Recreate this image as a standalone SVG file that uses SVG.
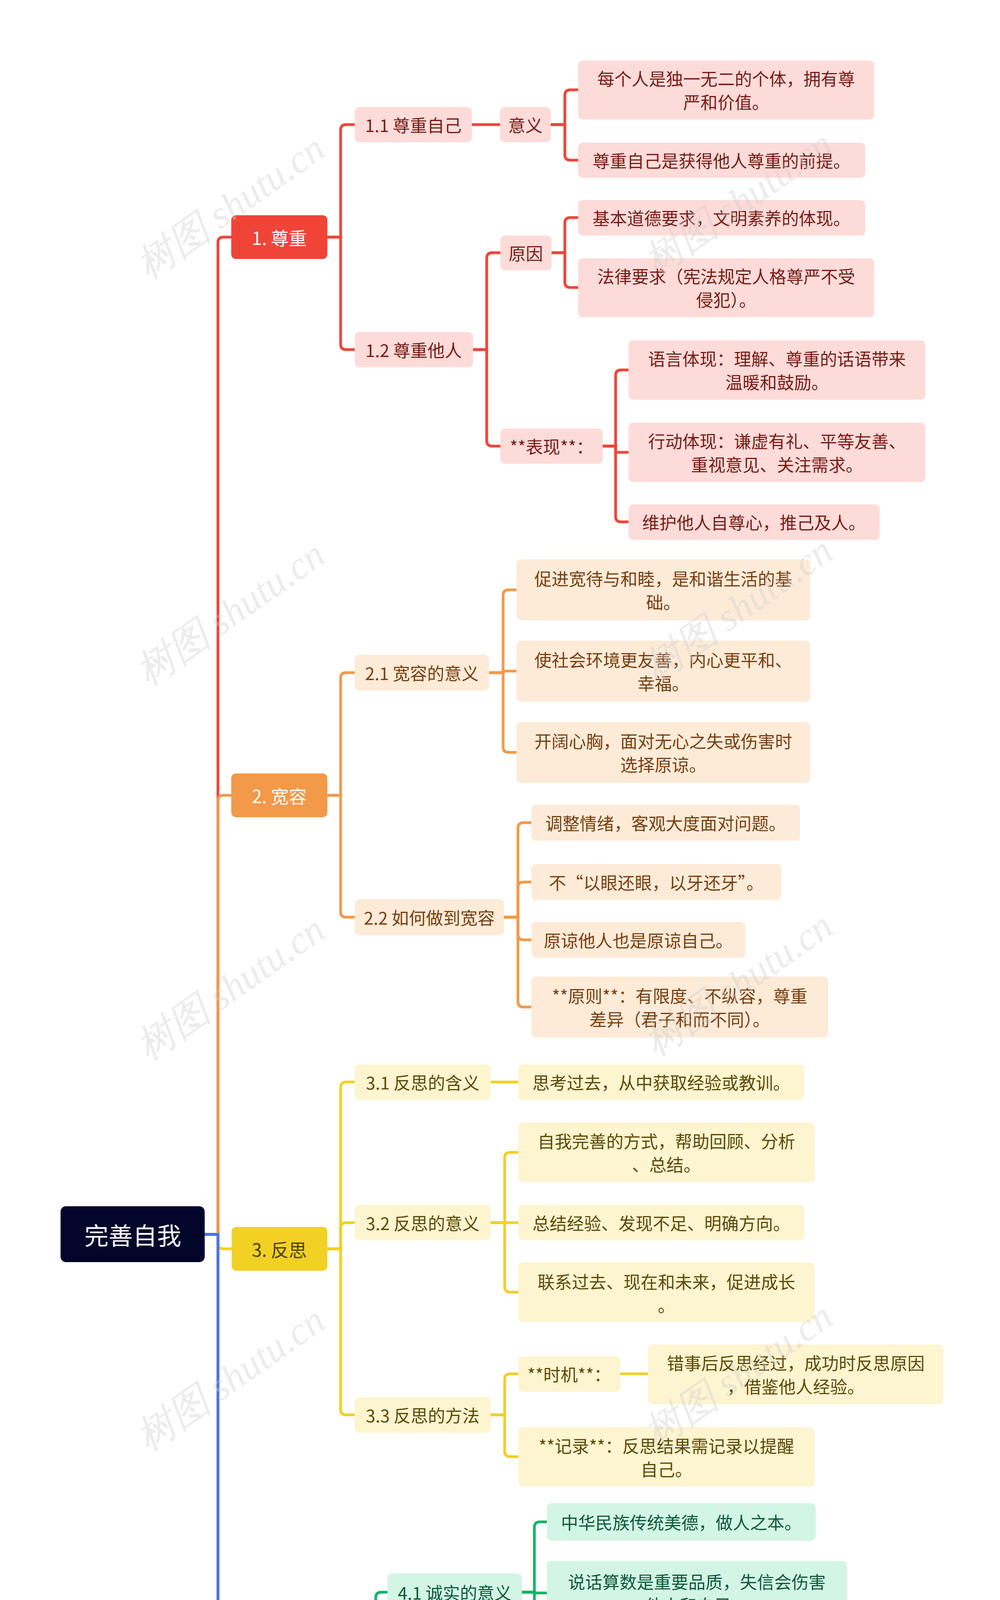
<svg xmlns="http://www.w3.org/2000/svg" width="2560" height="6284" viewBox="0 0 2560 6284">
<style>
text{font-family:"Noto Sans CJK SC","Noto Sans",sans-serif;font-size:44px;text-anchor:middle;dominant-baseline:central}
.c path{fill:none;stroke-width:7;stroke-linecap:round}
.r{stroke:#f04438}.o{stroke:#f2994a}.y{stroke:#f2d024}.g{stroke:#17b26a}.b{stroke:#4f6ef2}
.R rect{fill:#fddbd9}.R text{fill:#7a1d16}
.O rect{fill:#fdebd8}.O text{fill:#7a3f10}
.Y rect{fill:#fdf5d0}.Y text{fill:#5e4a08}
.G rect{fill:#d3f5e6}.G text{fill:#0c5a3a}
.B rect{fill:#dfe5fb}.B text{fill:#1f2b78}
.m text{fill:#fff;font-size:46px}
.wm{font-family:"Liberation Serif",serif;font-style:italic;font-size:100px;fill:#d0d0d0;opacity:.4;text-anchor:start}
</style>
<rect width="2560" height="6284" fill="#fff"/>
<g class="c">
<path class="r" d="M524 3160 H558 V621 Q558 607 572 607 H592"/>
<path class="o" d="M524 3160 H558 V2050 Q558 2036 572 2036 H592"/>
<path class="y" d="M524 3160 H558 V3183 Q558 3197 572 3197 H592"/>
<path class="g" d="M524 3160 H558 V4562 Q558 4576 572 4576 H592"/>
<path class="b" d="M524 3160 H558 V5682 Q558 5696 572 5696 H592"/>
<path class="r" d="M838 607 H872 V333 Q872 319 886 319 H908"/>
<path class="r" d="M838 607 H872 V881 Q872 895 886 895 H908"/>
<path class="r" d="M1208 319 H1280"/>
<path class="r" d="M1410 319 H1446 V244 Q1446 230 1460 230 H1480"/>
<path class="r" d="M1410 319 H1446 V396 Q1446 410 1460 410 H1480"/>
<path class="r" d="M1211 895 H1246 V661 Q1246 647 1260 647 H1281"/>
<path class="r" d="M1211 895 H1246 V1128 Q1246 1142 1260 1142 H1281"/>
<path class="r" d="M1412 647 H1446 V571 Q1446 557 1460 557 H1480"/>
<path class="r" d="M1412 647 H1446 V722 Q1446 736 1460 736 H1480"/>
<path class="r" d="M1543 1142 H1576 V961 Q1576 947 1590 947 H1609"/>
<path class="r" d="M1543 1142 H1576 V1158 H1609"/>
<path class="r" d="M1543 1142 H1576 V1322 Q1576 1336 1590 1336 H1609"/>
<path class="o" d="M838 2036 H872 V1736 Q872 1722 886 1722 H908"/>
<path class="o" d="M838 2036 H872 V2334 Q872 2348 886 2348 H908"/>
<path class="o" d="M1252 1722 H1288 V1524 Q1288 1510 1302 1510 H1322"/>
<path class="o" d="M1252 1722 H1288 V1718 H1322"/>
<path class="o" d="M1252 1722 H1288 V1912 Q1288 1926 1302 1926 H1322"/>
<path class="o" d="M1290 2348 H1326 V2120 Q1326 2106 1340 2106 H1360"/>
<path class="o" d="M1290 2348 H1326 V2272 Q1326 2258 1340 2258 H1360"/>
<path class="o" d="M1290 2348 H1326 V2392 Q1326 2406 1340 2406 H1360"/>
<path class="o" d="M1290 2348 H1326 V2564 Q1326 2578 1340 2578 H1360"/>
<path class="y" d="M838 3197 H872 V2784 Q872 2770 886 2770 H908"/>
<path class="y" d="M838 3197 H872 V3144 Q872 3130 886 3130 H908"/>
<path class="y" d="M838 3197 H872 V3608 Q872 3622 886 3622 H908"/>
<path class="y" d="M1256 2770 H1327"/>
<path class="y" d="M1256 3130 H1292 V2964 Q1292 2950 1306 2950 H1327"/>
<path class="y" d="M1256 3130 H1327"/>
<path class="y" d="M1256 3130 H1292 V3294 Q1292 3308 1306 3308 H1327"/>
<path class="y" d="M1256 3622 H1292 V3531 Q1292 3517 1306 3517 H1327"/>
<path class="y" d="M1256 3622 H1292 V3715 Q1292 3729 1306 3729 H1327"/>
<path class="y" d="M1588 3517 H1659"/>
<path class="g" d="M928 4576 H962 V4090 Q962 4076 976 4076 H992"/>
<path class="g" d="M928 4576 H962 V4548 H992"/>
<path class="g" d="M928 4576 H962 V5058 Q962 5072 976 5072 H992"/>
<path class="g" d="M1336 4076 H1368 V3910 Q1368 3896 1382 3896 H1400"/>
<path class="g" d="M1336 4076 H1368 V4078 H1400"/>
<path class="g" d="M1336 4076 H1368 V4242 Q1368 4256 1382 4256 H1400"/>
<path class="g" d="M1472 4548 H1504 V4414 Q1504 4400 1518 4400 H1536"/>
<path class="g" d="M1472 4548 H1504 V4552 H1536"/>
<path class="g" d="M1472 4548 H1504 V4686 Q1504 4700 1518 4700 H1536"/>
<path class="g" d="M1288 5072 H1324 V4896 Q1324 4882 1338 4882 H1360"/>
<path class="g" d="M1288 5072 H1324 V5086 H1360"/>
<path class="g" d="M1288 5072 H1324 V5258 Q1324 5272 1338 5272 H1360"/>
<path class="b" d="M928 5696 H962 V5502 Q962 5488 976 5488 H992"/>
<path class="b" d="M928 5696 H962 V5890 Q962 5904 976 5904 H992"/>
<path class="b" d="M1288 5488 H1324 V5430 Q1324 5416 1338 5416 H1360"/>
<path class="b" d="M1288 5488 H1324 V5554 Q1324 5568 1338 5568 H1360"/>
<path class="b" d="M1432 5904 H1464 V5758 Q1464 5744 1478 5744 H1496"/>
<path class="b" d="M1432 5904 H1464 V5920 H1496"/>
<path class="b" d="M1432 5904 H1464 V6054 Q1464 6068 1478 6068 H1496"/>
</g>
<g id="root"><rect x="155" y="3088" width="369" height="143" rx="14" fill="#03062b"/><text x="340" y="3160" style="fill:#fff;font-size:62px">完善自我</text></g>
<g id="n1" class="m"><rect x="592" y="551" width="246" height="112" rx="12" fill="#f04438"/><text x="715" y="607">1. 尊重</text></g>
<g id="n2" class="m"><rect x="592" y="1980" width="246" height="112" rx="12" fill="#f2994a"/><text x="715" y="2036">2. 宽容</text></g>
<g id="n3" class="m"><rect x="593" y="3141" width="245" height="112" rx="12" fill="#f2d024"/><text x="715" y="3197" style="fill:#4a3c00">3. 反思</text></g>
<g id="n4" class="m"><rect x="592" y="4520" width="336" height="112" rx="12" fill="#17b26a"/><text x="760" y="4576">4. 诚实守信</text></g>
<g id="n5" class="m"><rect x="592" y="5640" width="336" height="112" rx="12" fill="#4f6ef2"/><text x="760" y="5696">5. 勤俭节约</text></g>
<g class="R">
<g id="n11"><rect x="908" y="274" width="300" height="90" rx="12"/><text x="1058" y="319">1.1 尊重自己</text></g>
<g id="n111"><rect x="1280" y="274" width="130" height="90" rx="12"/><text x="1345" y="319">意义</text></g>
<g id="n1111"><rect x="1480" y="155" width="758" height="151" rx="12"/><text x="1859" y="200">每个人是独一无二的个体，拥有尊</text><text x="1859" y="260">严和价值。</text></g>
<g id="n1112"><rect x="1480" y="365" width="735" height="90" rx="12"/><text x="1847" y="410">尊重自己是获得他人尊重的前提。</text></g>
<g id="n12"><rect x="908" y="850" width="303" height="90" rx="12"/><text x="1059" y="895">1.2 尊重他人</text></g>
<g id="n121"><rect x="1281" y="603" width="131" height="89" rx="12"/><text x="1346" y="647">原因</text></g>
<g id="n1211"><rect x="1480" y="512" width="735" height="91" rx="12"/><text x="1847" y="557">基本道德要求，文明素养的体现。</text></g>
<g id="n1212"><rect x="1480" y="661" width="758" height="151" rx="12"/><text x="1859" y="706">法律要求（宪法规定人格尊严不受</text><text x="1859" y="766">侵犯）。</text></g>
<g id="n122"><rect x="1281" y="1097" width="262" height="90" rx="12"/><text x="1412" y="1142">**表现**：</text></g>
<g id="n1221"><rect x="1609" y="871" width="760" height="152" rx="12"/><text x="1989" y="917">语言体现：理解、尊重的话语带来</text><text x="1989" y="977">温暖和鼓励。</text></g>
<g id="n1222"><rect x="1609" y="1082" width="760" height="152" rx="12"/><text x="1989" y="1128">行动体现：谦虚有礼、平等友善、</text><text x="1989" y="1188">重视意见、关注需求。</text></g>
<g id="n1223"><rect x="1609" y="1291" width="643" height="91" rx="12"/><text x="1930" y="1336">维护他人自尊心，推己及人。</text></g>
</g>
<g class="O">
<g id="n21"><rect x="908" y="1676" width="344" height="92" rx="12"/><text x="1080" y="1722">2.1 宽容的意义</text></g>
<g id="n211"><rect x="1322" y="1432" width="752" height="156" rx="12"/><text x="1698" y="1480">促进宽待与和睦，是和谐生活的基</text><text x="1698" y="1540">础。</text></g>
<g id="n212"><rect x="1322" y="1640" width="752" height="156" rx="12"/><text x="1698" y="1688">使社会环境更友善，内心更平和、</text><text x="1698" y="1748">幸福。</text></g>
<g id="n213"><rect x="1322" y="1848" width="752" height="156" rx="12"/><text x="1698" y="1896">开阔心胸，面对无心之失或伤害时</text><text x="1698" y="1956">选择原谅。</text></g>
<g id="n22"><rect x="908" y="2302" width="382" height="92" rx="12"/><text x="1099" y="2348">2.2 如何做到宽容</text></g>
<g id="n221"><rect x="1360" y="2060" width="688" height="92" rx="12"/><text x="1704" y="2106">调整情绪，客观大度面对问题。</text></g>
<g id="n222"><rect x="1360" y="2212" width="640" height="92" rx="12"/><text x="1680" y="2258">不“以眼还眼，以牙还牙”。</text></g>
<g id="n223"><rect x="1360" y="2360" width="548" height="92" rx="12"/><text x="1634" y="2406">原谅他人也是原谅自己。</text></g>
<g id="n224"><rect x="1360" y="2500" width="760" height="156" rx="12"/><text x="1740" y="2548">**原则**：有限度、不纵容，尊重</text><text x="1740" y="2608">差异（君子和而不同）。</text></g>
</g>
<g class="Y">
<g id="n31"><rect x="908" y="2725" width="348" height="91" rx="12"/><text x="1082" y="2770">3.1 反思的含义</text></g>
<g id="n311"><rect x="1327" y="2725" width="732" height="91" rx="12"/><text x="1693" y="2770">思考过去，从中获取经验或教训。</text></g>
<g id="n32"><rect x="908" y="3084" width="348" height="91" rx="12"/><text x="1082" y="3130">3.2 反思的意义</text></g>
<g id="n321"><rect x="1327" y="2873" width="758" height="153" rx="12"/><text x="1706" y="2920">自我完善的方式，帮助回顾、分析</text><text x="1706" y="2980">、总结。</text></g>
<g id="n322"><rect x="1327" y="3084" width="732" height="91" rx="12"/><text x="1693" y="3130">总结经验、发现不足、明确方向。</text></g>
<g id="n323"><rect x="1327" y="3232" width="758" height="152" rx="12"/><text x="1706" y="3280">联系过去、现在和未来，促进成长</text><text x="1706" y="3340">。</text></g>
<g id="n33"><rect x="908" y="3577" width="348" height="91" rx="12"/><text x="1082" y="3622">3.3 反思的方法</text></g>
<g id="n331"><rect x="1327" y="3472" width="261" height="91" rx="12"/><text x="1457" y="3517">**时机**：</text></g>
<g id="n3311"><rect x="1659" y="3442" width="756" height="153" rx="12"/><text x="2037" y="3488">错事后反思经过，成功时反思原因</text><text x="2037" y="3548">，借鉴他人经验。</text></g>
<g id="n332"><rect x="1327" y="3653" width="758" height="152" rx="12"/><text x="1706" y="3700">**记录**：反思结果需记录以提醒</text><text x="1706" y="3760">自己。</text></g>
</g>
<g class="G">
<g id="n41"><rect x="992" y="4028" width="344" height="96" rx="12"/><text x="1164" y="4076">4.1 诚实的意义</text></g>
<g id="n411"><rect x="1400" y="3848" width="688" height="96" rx="12"/><text x="1744" y="3896">中华民族传统美德，做人之本。</text></g>
<g id="n412"><rect x="1400" y="3996" width="768" height="164" rx="12"/><text x="1784" y="4048">说话算数是重要品质，失信会伤害</text><text x="1784" y="4108">他人和自己。</text></g>
<g id="n413"><rect x="1400" y="4208" width="552" height="96" rx="12"/><text x="1676" y="4256">不守信用者得不到尊重。</text></g>
<g id="n42"><rect x="992" y="4500" width="480" height="96" rx="12"/><text x="1232" y="4548">4.2 如何做到诚实守信</text></g>
<g id="n421"><rect x="1536" y="4352" width="544" height="96" rx="12"/><text x="1808" y="4400">做人做事诚实，不说谎。</text></g>
<g id="n422"><rect x="1536" y="4504" width="600" height="96" rx="12"/><text x="1836" y="4552">说到做到，尽力完成承诺。</text></g>
<g id="n423"><rect x="1536" y="4652" width="552" height="96" rx="12"/><text x="1812" y="4700">对他人和自己均要守信。</text></g>
<g id="n43"><rect x="992" y="5024" width="296" height="96" rx="12"/><text x="1140" y="5072">4.3 名人名言</text></g>
<g id="n431"><rect x="1360" y="4800" width="752" height="164" rx="12"/><text x="1736" y="4852">孔子：“人而无信，不知其可也。</text><text x="1736" y="4912">”</text></g>
<g id="n432"><rect x="1360" y="5004" width="752" height="164" rx="12"/><text x="1736" y="5056">海涅：“生命不可能从谎言中开出</text><text x="1736" y="5116">灿烂的鲜花。”</text></g>
<g id="n433"><rect x="1360" y="5224" width="640" height="96" rx="12"/><text x="1680" y="5272">韩非子：“巧诈不如拙诚。”</text></g>
</g>
<g class="B">
<g id="n51"><rect x="992" y="5440" width="296" height="96" rx="12"/><text x="1140" y="5488">5.1 合理消费</text></g>
<g id="n511"><rect x="1360" y="5368" width="504" height="96" rx="12"/><text x="1612" y="5416">克制欲望，按需消费。</text></g>
<g id="n512"><rect x="1360" y="5520" width="640" height="96" rx="12"/><text x="1680" y="5568">方法：合理比较、自我克制。</text></g>
<g id="n52"><rect x="992" y="5856" width="440" height="96" rx="12"/><text x="1212" y="5904">5.2 勤俭节约的意义</text></g>
<g id="n521"><rect x="1496" y="5664" width="760" height="160" rx="12"/><text x="1876" y="5714">美德：精打细算、量入为出，节约</text><text x="1876" y="5774">粮食。</text></g>
<g id="n522"><rect x="1496" y="5872" width="600" height="96" rx="12"/><text x="1796" y="5920">反对浪费，尊重劳动成果。</text></g>
<g id="n523"><rect x="1496" y="6020" width="736" height="96" rx="12"/><text x="1864" y="6068">从小事做起，形成良好社会风尚。</text></g>
</g>
<g>
<text class="wm" transform="translate(360,690) rotate(-35)">树图 shutu.cn</text>
<text class="wm" transform="translate(1660,680) rotate(-35)">树图 shutu.cn</text>
<text class="wm" transform="translate(360,1730) rotate(-35)">树图 shutu.cn</text>
<text class="wm" transform="translate(1660,1720) rotate(-35)">树图 shutu.cn</text>
<text class="wm" transform="translate(360,2690) rotate(-35)">树图 shutu.cn</text>
<text class="wm" transform="translate(1660,2680) rotate(-35)">树图 shutu.cn</text>
<text class="wm" transform="translate(360,3690) rotate(-35)">树图 shutu.cn</text>
<text class="wm" transform="translate(1660,3680) rotate(-35)">树图 shutu.cn</text>
<text class="wm" transform="translate(360,4690) rotate(-35)">树图 shutu.cn</text>
<text class="wm" transform="translate(1660,4680) rotate(-35)">树图 shutu.cn</text>
<text class="wm" transform="translate(360,5800) rotate(-35)">树图 shutu.cn</text>
<text class="wm" transform="translate(1660,5790) rotate(-35)">树图 shutu.cn</text>
</g>
</svg>
